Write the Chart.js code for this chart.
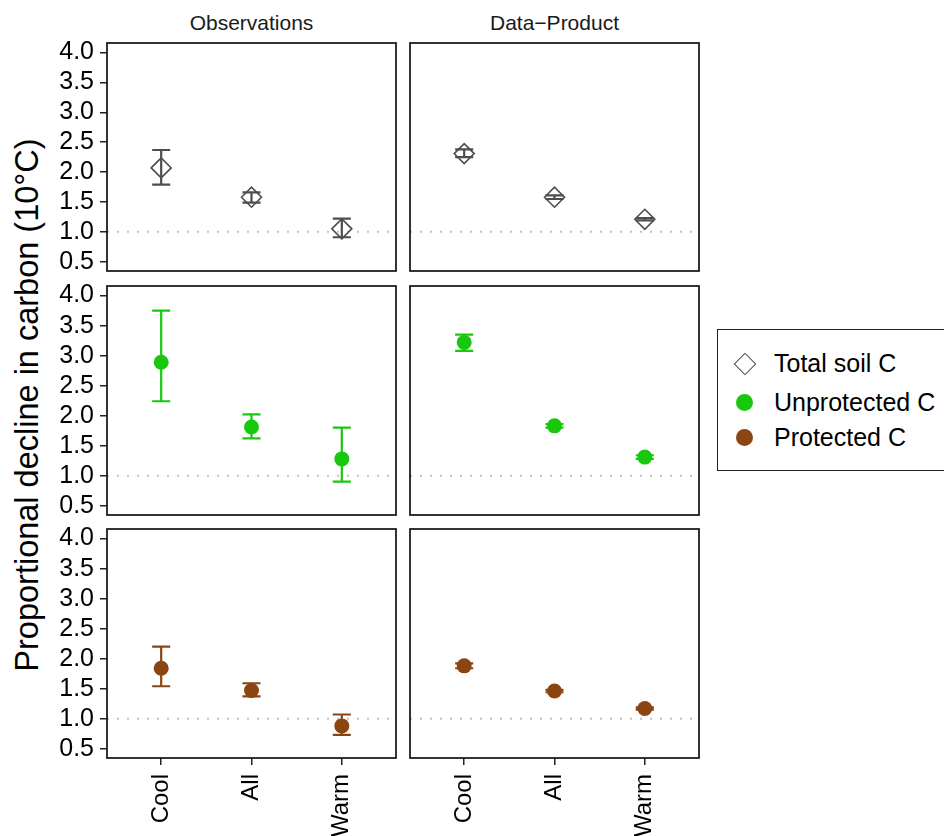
<!DOCTYPE html>
<html>
<head>
<meta charset="utf-8">
<script src="https://cdn.jsdelivr.net/npm/chart.js@4"></script>
<style>
  body { margin:0; background:#fff; width:944px; height:836px; overflow:hidden; position:relative;
         font-family:'Liberation Sans', Arial, Helvetica, sans-serif; }
  canvas { position:absolute; }
  .strip { position:absolute; top:11px; width:289px; text-align:center; font-size:21px; line-height:24px; color:#1a1a1a; }
  .ytitle { position:absolute; left:27px; top:405px; transform:translate(-50%,-50%) rotate(-90deg);
            white-space:nowrap; font-size:32.5px; color:#000; }
  .legend { position:absolute; left:717px; top:329px; width:240px; height:140px; border:1.5px solid #222; }
  .item { position:absolute; left:56px; font-size:25px; line-height:28px; color:#000; white-space:nowrap; }
  .key { position:absolute; }
</style>
</head>
<body>
<div class="strip" style="left:107px">Observations</div>
<div class="strip" style="left:410px">Data&minus;Product</div>
<div class="ytitle">Proportional decline in carbon (10°C)</div>
<div class="legend">
  <div class="key" style="left:19px;top:26px;width:14px;height:14px;border:1.5px solid #4d4d4d;transform:rotate(45deg)"></div>
  <div class="item" style="top:19px">Total soil C</div>
  <div class="key" style="left:18px;top:64px;width:17px;height:17px;border-radius:50%;background:#18c80f"></div>
  <div class="item" style="top:58px">Unprotected C</div>
  <div class="key" style="left:18px;top:99px;width:17px;height:17px;border-radius:50%;background:#8b4513"></div>
  <div class="item" style="top:93px">Protected C</div>
</div>
<script>
// categories and axis values
const categories = ['Cool', 'All', 'Warm'];
const yTicks = [0.5, 1.0, 1.5, 2.0, 2.5, 3.0, 3.5, 4.0];
const refLine = 1;

// Observations
const obsTotal   = [2.07, 1.58, 1.05];
const obsTotalLo = [1.79, 1.49, 0.91];
const obsTotalHi = [2.37, 1.66, 1.22];
const obsUnprot   = [2.89, 1.81, 1.28];
const obsUnprotLo = [2.24, 1.62, 0.90];
const obsUnprotHi = [3.75, 2.02, 1.80];
const obsProt   = [1.84, 1.47, 0.88];
const obsProtLo = [1.54, 1.37, 0.73];
const obsProtHi = [2.20, 1.59, 1.07];

// Data-Product
const dpTotal   = [2.31, 1.58, 1.21];
const dpTotalLo = [2.25, 1.55, 1.19];
const dpTotalHi = [2.38, 1.61, 1.23];
const dpUnprot   = [3.22, 1.83, 1.31];
const dpUnprotLo = [3.08, 1.80, 1.28];
const dpUnprotHi = [3.35, 1.86, 1.34];
const dpProt   = [1.88, 1.46, 1.17];
const dpProtLo = [1.84, 1.44, 1.15];
const dpProtHi = [1.92, 1.48, 1.19];

const totalColor = '#4d4d4d';
const unprotColor = '#18c80f';
const protColor = '#8b4513';
const FONT = "'Liberation Sans', Arial, Helvetica, sans-serif";

const xMin = -0.6, xMax = 2.6;
const yMin = 0.345, yMax = 4.16;
const capWidth = 0.2;

// draws the error bars just before the points
const errorBars = {
  id: 'errorBars',
  beforeDatasetDraw(chart, args) {
    if (args.index !== 0) return;
    const ds = chart.data.datasets[0];
    const { ctx, scales: { x, y } } = chart;
    ctx.save();
    ctx.strokeStyle = ds.borderColor;
    ctx.lineWidth = 2.2;
    ds.errLo.forEach((lo, i) => {
      const hi = ds.errHi[i];
      const xc = x.getPixelForValue(i);
      const xl = x.getPixelForValue(i - capWidth / 2);
      const xr = x.getPixelForValue(i + capWidth / 2);
      const yl = y.getPixelForValue(lo), yh = y.getPixelForValue(hi);
      ctx.beginPath();
      ctx.moveTo(xc, yl); ctx.lineTo(xc, yh);
      ctx.moveTo(xl, yl); ctx.lineTo(xr, yl);
      ctx.moveTo(xl, yh); ctx.lineTo(xr, yh);
      ctx.stroke();
    });
    ctx.restore();
  }
};

const frame = {
  id: 'frame',
  afterDraw(chart) {
    const { ctx, chartArea: a } = chart;
    ctx.save();
    ctx.strokeStyle = '#111';
    ctx.lineWidth = 1.7;
    ctx.strokeRect(a.left, a.top, a.right - a.left, a.bottom - a.top);
    ctx.restore();
  }
};

const cols = [{ left: 0, width: 400 }, { left: 400, width: 310 }];
const rows = [{ top: 41, height: 232 }, { top: 284, height: 233 }, { top: 527, height: 309 }];

const panels = [
  { row: 0, col: 0, mean: obsTotal,  lo: obsTotalLo,  hi: obsTotalHi,  color: totalColor },
  { row: 0, col: 1, mean: dpTotal,   lo: dpTotalLo,   hi: dpTotalHi,   color: totalColor },
  { row: 1, col: 0, mean: obsUnprot, lo: obsUnprotLo, hi: obsUnprotHi, color: unprotColor },
  { row: 1, col: 1, mean: dpUnprot,  lo: dpUnprotLo,  hi: dpUnprotHi,  color: unprotColor },
  { row: 2, col: 0, mean: obsProt,   lo: obsProtLo,   hi: obsProtHi,   color: protColor },
  { row: 2, col: 1, mean: dpProt,    lo: dpProtLo,    hi: dpProtHi,    color: protColor }
];

panels.forEach(p => {
  const c = cols[p.col], r = rows[p.row];
  const isBottom = p.row === 2;
  const isLeft = p.col === 0;
  const isDiamond = p.row === 0;
  const cv = document.createElement('canvas');
  cv.width = c.width; cv.height = r.height;
  cv.style.left = c.left + 'px'; cv.style.top = r.top + 'px';
  document.body.appendChild(cv);

  new Chart(cv, {
    type: 'scatter',
    data: {
      datasets: [
        {
          data: p.mean.map((v, i) => ({ x: i, y: v })),
          errLo: p.lo, errHi: p.hi,
          pointStyle: isDiamond ? 'rectRot' : 'circle',
          pointRadius: isDiamond ? 10 : 7.5,
          pointBorderWidth: isDiamond ? 1.6 : 0,
          borderColor: p.color,
          backgroundColor: isDiamond ? 'rgba(0,0,0,0)' : p.color
        },
        {
          type: 'line',
          data: [{ x: xMin, y: refLine }, { x: xMax, y: refLine }],
          borderColor: '#c2c2c2', borderWidth: 2, borderDash: [2, 8],
          pointRadius: 0
        }
      ]
    },
    options: {
      responsive: false, animation: false, events: [],
      layout: { autoPadding: false,
                padding: { top: 2, bottom: isBottom ? 0 : 2, left: isLeft ? 0 : 10, right: isLeft ? 4 : 11 } },
      plugins: { legend: { display: false }, tooltip: { enabled: false } },
      scales: {
        x: {
          type: 'linear', min: xMin, max: xMax, display: isBottom,
          afterFit: s => { s.height = isBottom ? 78 : 0; s.paddingLeft = 0; s.paddingRight = 0; },
          afterBuildTicks: s => { s.ticks = categories.map((_, i) => ({ value: i })); },
          ticks: { callback: v => categories[v], autoSkip: false, minRotation: 90, maxRotation: 90,
                   padding: 9, color: '#000', font: { family: FONT, size: 24 } },
          grid: { drawOnChartArea: false, drawTicks: true, tickLength: 7, color: '#222', lineWidth: 1.5 },
          border: { display: false }
        },
        y: {
          min: yMin, max: yMax, display: isLeft,
          afterFit: s => { s.width = isLeft ? 107 : 0; s.paddingTop = 0; s.paddingBottom = 0; },
          afterBuildTicks: s => { s.ticks = yTicks.map(v => ({ value: v })); },
          ticks: { callback: v => v.toFixed(1), autoSkip: false, padding: 6, color: '#000', font: { family: FONT, size: 25 } },
          grid: { drawOnChartArea: false, drawTicks: true, tickLength: 7, color: '#222', lineWidth: 1.5 },
          border: { display: false }
        }
      }
    },
    plugins: [errorBars, frame]
  });
});
</script>
</body>
</html>
